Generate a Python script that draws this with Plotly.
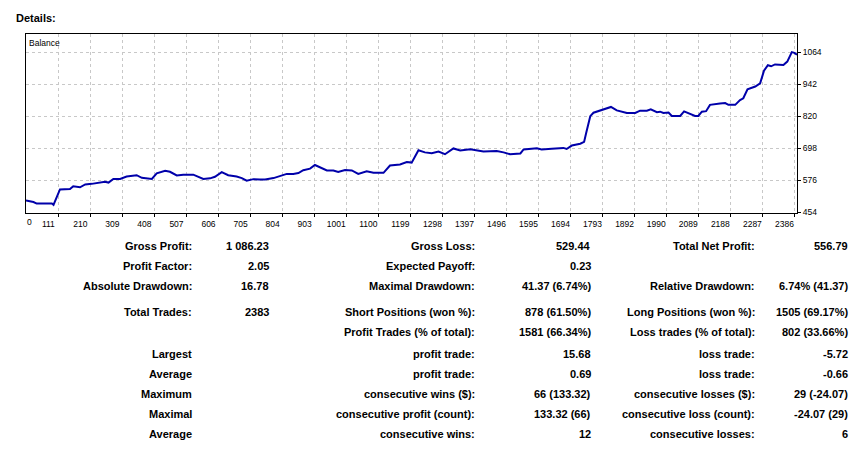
import plotly.graph_objects as go

# ---------------- data ----------------
trade_index = [11, 34, 44, 91, 96, 116, 147, 157, 178, 194, 214, 240, 255, 266, 281, 302, 322, 353, 369, 400,
               415, 441, 456, 477, 497, 528, 559, 580, 595, 616, 636, 662, 678, 693, 714, 734, 750, 776, 791, 817,
               837, 853, 868, 889, 904, 925, 941, 961, 976, 997, 1018, 1038, 1064, 1085, 1116, 1136, 1167, 1188,
               1203, 1224, 1244, 1265, 1286, 1306, 1332, 1353, 1384, 1425, 1466, 1487, 1507, 1539, 1549, 1590,
               1605, 1636, 1672, 1682, 1698, 1724, 1736, 1742, 1755, 1765, 1796, 1819, 1837, 1868, 1894, 1909,
               1930, 1942, 1961, 1971, 1981, 1997, 2007, 2033, 2045, 2064, 2079, 2089, 2100, 2113, 2125, 2156,
               2172, 2182, 2203, 2218, 2228, 2241, 2265, 2280, 2292, 2304, 2314, 2326, 2352, 2364, 2378, 2386, 2394]
balance = [500, 494, 488, 488, 483, 542, 543, 554, 550, 561, 563, 568, 571, 568, 582, 582, 591, 596, 586, 582,
           603, 613, 609, 595, 598, 598, 582, 584, 590, 608, 596, 591, 585, 575, 581, 580, 580, 585, 590, 601,
           601, 604, 615, 621, 635, 624, 614, 614, 608, 616, 614, 601, 611, 605, 605, 633, 637, 646,
           644, 691, 683, 680, 686, 676, 698, 690, 695, 686, 688, 683, 676, 679, 694, 699,
           694, 697, 700, 696, 709, 716, 723, 755, 821, 834, 848, 856, 843, 833, 833, 842,
           842, 847, 836, 838, 833, 835, 822, 822, 839, 831, 822, 822, 838, 840, 864, 869,
           871, 864, 864, 882, 889, 923, 934, 946, 994, 1015, 1011, 1018, 1016, 1029, 1065, 1062, 1055]

x_tick_values = [111, 210, 309, 408, 507, 606, 705, 804, 903, 1001, 1100, 1199, 1298, 1397, 1496,
                 1595, 1694, 1793, 1892, 1990, 2089, 2188, 2287, 2386]
x_tick_labels = ["0"] + [str(v) for v in x_tick_values]
y_tick_values = [454, 576, 698, 820, 942, 1064]

col1_labels = ["Gross Profit:", "Profit Factor:", "Absolute Drawdown:", "Total Trades:", "",
               "Largest", "Average", "Maximum", "Maximal", "Average"]
col2_values = ["1 086.23", "2.05", "16.78", "2383", "", "", "", "", "", ""]
col3_labels = ["Gross Loss:", "Expected Payoff:", "Maximal Drawdown:", "Short Positions (won %):",
               "Profit Trades (% of total):", "profit trade:", "profit trade:", "consecutive wins ($):",
               "consecutive profit (count):", "consecutive wins:"]
col4_values = ["529.44", "0.23", "41.37 (6.74%)", "878 (61.50%)", "1581 (66.34%)", "15.68", "0.69",
               "66 (133.32)", "133.32 (66)", "12"]
col5_labels = ["Total Net Profit:", "", "Relative Drawdown:", "Long Positions (won %):",
               "Loss trades (% of total):", "loss trade:", "loss trade:", "consecutive losses ($):",
               "consecutive loss (count):", "consecutive losses:"]
col6_values = ["556.79", "", "6.74% (41.37)", "1505 (69.17%)", "802 (33.66%)", "-5.72", "-0.66",
               "29 (-24.07)", "-24.07 (29)", "6"]

# ---------------- layout geometry (pixels) ----------------
W, H = 862, 452
PL, PR, PT, PB = 26, 797, 34, 213
FONT = "Liberation Sans"

def px_to_paper(px, py):
    return (px - PL) / (PR - PL), (PB - py) / (PB - PT)

fig = go.Figure()
fig.add_trace(go.Scatter(x=trade_index, y=balance, mode="lines",
                         line=dict(color="#0000AA", width=2), hoverinfo="skip", showlegend=False))

annotations = []
def add_text(text, px, py, anchor="right", size=11, bold=True):
    if not text:
        return
    x, y = px_to_paper(px, py)
    annotations.append(dict(text=("<b>%s</b>" % text) if bold else text, x=x, y=y,
                            xref="paper", yref="paper", xanchor=anchor, yanchor="middle",
                            showarrow=False, borderpad=0, borderwidth=0,
                            font=dict(family=FONT, size=size, color="#000000")))

row_y = [245.5, 266, 286, 312, 332, 354, 374, 394, 414, 434]
col_x = [192, 269, 475, 591, 755, 848]
columns = [col1_labels, col2_values, col3_labels, col4_values, col5_labels, col6_values]
for cx, col in zip(col_x, columns):
    for ry, t in zip(row_y, col):
        add_text(t, cx, ry)

add_text("Details:", 16, 17.5, anchor="left")
add_text("Balance", 29, 43, anchor="left", size=8.5, bold=False)
add_text(x_tick_labels[0], 29, 221.5, anchor="center", size=8.5, bold=False)

grid = dict(showgrid=True, gridcolor="#c8c8c8", gridwidth=1, griddash="3px,3px")
fig.update_layout(
    width=W, height=H,
    margin=dict(l=PL, r=W - PR, t=PT, b=H - PB, pad=0),
    paper_bgcolor="white", plot_bgcolor="white",
    font=dict(family=FONT, size=8.5, color="black"),
    xaxis=dict(range=[11, 2394], tickmode="array", tickvals=x_tick_values, ticktext=x_tick_labels[1:],
               ticks="outside", ticklen=3, tickcolor="black", showline=True, linecolor="black",
               linewidth=1, mirror=True, zeroline=False, ticklabelshift=-10, **grid),
    yaxis=dict(range=[452, 1134], side="right", tickmode="array", tickvals=y_tick_values,
               ticks="outside", ticklen=3, tickcolor="black", showline=True, linecolor="black",
               linewidth=1, mirror=True, zeroline=False, **grid),
    annotations=annotations,
)

fig.write_html("out.html")
